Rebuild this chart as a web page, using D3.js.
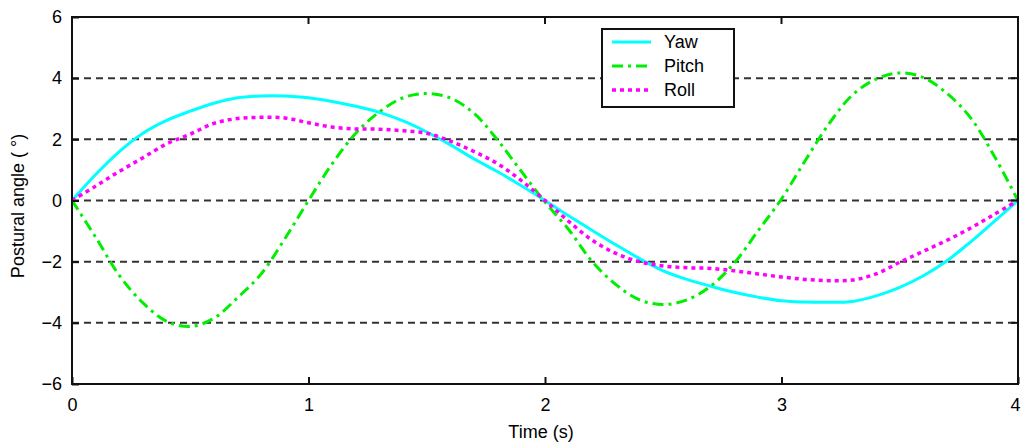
<!DOCTYPE html>
<html>
<head>
<meta charset="utf-8">
<script src="https://cdn.jsdelivr.net/npm/d3@7"></script>
<style>
  body { margin: 0; background: #fff; }
  text { font-family: "Liberation Sans", Arial, sans-serif; fill: #000; }
</style>
</head>
<body>
<svg id="chart"></svg>
<script>
let margin = {top: 17, right: 5, bottom: 61, left: 72},
  W = 1023, H = 445,
  width = W - margin.left - margin.right,
  height = H - margin.top - margin.bottom;

// data
let times = [0,0.1,0.2,0.3,0.4,0.5,0.6,0.7,0.8,0.9,1.0,1.1,1.2,1.3,1.4,1.5,1.6,1.7,1.8,1.9,2.0,
             2.1,2.2,2.3,2.4,2.5,2.6,2.7,2.8,2.9,3.0,3.1,3.2,3.3,3.4,3.5,3.6,3.7,3.8,3.9,4.0];
let yaw = [0,0.85,1.6,2.2,2.62,2.92,3.18,3.36,3.42,3.42,3.36,3.24,3.08,2.88,2.6,2.24,1.82,1.36,0.94,0.48,0,
           -0.5,-0.98,-1.45,-1.9,-2.3,-2.58,-2.8,-3.0,-3.16,-3.28,-3.32,-3.33,-3.3,-3.12,-2.84,-2.46,-1.97,-1.35,-0.68,0];
let pitch = [0,-1.2,-2.45,-3.35,-3.95,-4.12,-3.85,-3.18,-2.4,-1.25,0.0,1.2,2.2,2.9,3.36,3.5,3.35,2.85,1.97,0.95,-0.05,
             -0.95,-2.0,-2.75,-3.25,-3.4,-3.25,-2.8,-2.05,-1.0,0.05,1.3,2.5,3.45,3.97,4.17,4.02,3.5,2.7,1.45,0];
let roll = [0,0.47,0.95,1.4,1.85,2.17,2.52,2.68,2.72,2.7,2.54,2.4,2.34,2.33,2.28,2.2,1.94,1.6,1.2,0.65,0,
            -0.68,-1.3,-1.73,-2.0,-2.14,-2.2,-2.22,-2.3,-2.4,-2.5,-2.58,-2.62,-2.6,-2.4,-2.02,-1.66,-1.3,-0.9,-0.45,0];
let seriesNames = ["Yaw", "Pitch", "Roll"];
let xTicks = [0, 1, 2, 3, 4],
    yTicks = [-6, -4, -2, 0, 2, 4, 6],
    gridTicks = [-4, -2, 0, 2, 4];

let styles = {
  Yaw:   {color: "#00ffff", dash: null, w: 3},
  Pitch: {color: "#00ee00", dash: "11,5,3,5", w: 3},
  Roll:  {color: "#ff00ff", dash: "4,4", w: 3.5}
};

let svg = d3.select("#chart").attr("width", W).attr("height", H);
let g = svg.append("g").attr("transform", "translate(" + margin.left + "," + margin.top + ")");

let x = d3.scaleLinear().domain([0, 4]).range([0, width]),
    y = d3.scaleLinear().domain([-6, 6]).range([height, 0]);

// grid
g.selectAll(".grid").data(gridTicks).enter().append("line")
  .attr("x1", 0).attr("x2", width)
  .attr("y1", d => y(d)).attr("y2", d => y(d))
  .attr("stroke", "#333").attr("stroke-width", 2).attr("stroke-dasharray", "7,5");

// lines
let data = {Yaw: yaw, Pitch: pitch, Roll: roll};
let line = d3.line()
  .x((d, i) => x(times[i]))
  .y(d => y(d))
  .curve(d3.curveCatmullRom);

seriesNames.forEach(function(name){
  let s = styles[name];
  g.append("path")
    .datum(data[name])
    .attr("d", line)
    .attr("fill", "none")
    .attr("stroke", s.color)
    .attr("stroke-width", s.w)
    .attr("stroke-dasharray", s.dash);
});

// box + ticks
g.append("rect").attr("width", width).attr("height", height)
  .attr("fill", "none").attr("stroke", "#111").attr("stroke-width", 2);

let xAxis = d3.axisBottom(x).tickValues(xTicks).tickFormat(d3.format("d")).tickSizeInner(-7).tickSizeOuter(0).tickPadding(14),
    yAxis = d3.axisLeft(y).tickValues(yTicks).tickFormat(d3.format("d")).tickSizeInner(-7).tickSizeOuter(0).tickPadding(10);

let xa = g.append("g").attr("transform", "translate(0," + height + ")").call(xAxis);
let ya = g.append("g").call(yAxis);
[xa, ya].forEach(function(a){
  a.select(".domain").remove();
  a.selectAll("line").attr("stroke", "#111").attr("stroke-width", 2);
  a.selectAll("text").style("font-size", "18px").style("font-family", "Liberation Sans, Arial, sans-serif");
});
xa.selectAll("text").attr("dy", "0.71em");
// keep the last x label inside the page
xa.selectAll("text").filter(d => d === 4).attr("dx", "-3");
// top and right ticks
g.selectAll(".ttick").data(xTicks.slice(1, -1)).enter().append("line")
  .attr("x1", d => x(d)).attr("x2", d => x(d)).attr("y1", 0).attr("y2", 7)
  .attr("stroke", "#111").attr("stroke-width", 2);
g.selectAll(".rtick").data(yTicks.slice(1, -1)).enter().append("line")
  .attr("x1", width - 7).attr("x2", width).attr("y1", d => y(d)).attr("y2", d => y(d))
  .attr("stroke", "#111").attr("stroke-width", 2);

// axis labels
svg.append("text")
  .attr("x", margin.left + width / 2 - 4).attr("y", 438)
  .attr("text-anchor", "middle").style("font-size", "18px")
  .text("Time (s)");
svg.append("text")
  .attr("transform", "translate(24," + 206 + ") rotate(-90)")
  .attr("text-anchor", "middle").style("font-size", "18px")
  .text("Postural angle (  °)");

// legend
let lg = svg.append("g").attr("transform", "translate(602,29)");
lg.append("rect").attr("width", 132).attr("height", 78)
  .attr("fill", "#fff").attr("stroke", "#111").attr("stroke-width", 2);
seriesNames.forEach(function(name, i){
  let s = styles[name], yy = 13 + i * 24;
  lg.append("line").attr("x1", 10).attr("x2", 49).attr("y1", yy).attr("y2", yy)
    .attr("stroke", s.color).attr("stroke-width", s.w).attr("stroke-dasharray", s.dash);
  lg.append("text").attr("x", 62).attr("y", yy).attr("dy", "0.35em")
    .style("font-size", "18px").text(name);
});
</script>
</body>
</html>
